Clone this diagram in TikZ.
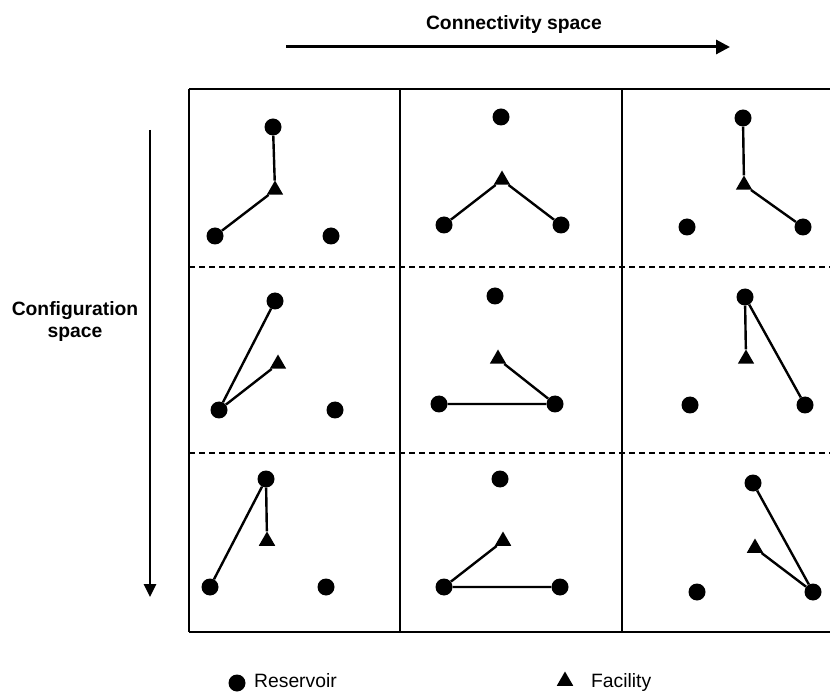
\documentclass[tikz,border=0pt]{standalone}
\usepackage{fontspec}
\setmainfont{Liberation Sans}
\usetikzlibrary{shapes.geometric,arrows.meta}

\begin{document}
\begin{tikzpicture}[x=1pt,y=-1pt,
  res/.style={circle,fill,inner sep=0pt,minimum size=17pt},
  fac/.style={regular polygon,regular polygon sides=3,fill,inner sep=0pt,minimum size=19pt},
  link/.style={line width=2.4pt},
  grid/.style={line width=2.4pt},
  sep/.style={line width=2pt,dash pattern=on 6pt off 4pt},
  lbl/.style={font=\fontsize{19.3}{22}\selectfont\bfseries,inner sep=0pt,align=center}]
\useasboundingbox (0,0) rectangle (830,692);

% axes
\node[lbl] (conn) at (514,25) {Connectivity space};
\draw[line width=3pt,-{Triangle[length=14pt,width=14pt]}] (286,47)--(730,47);
\node[lbl] (conf) at (75,322) {Configuration\\space};
\draw[line width=2.6pt,-{Triangle[length=13pt,width=12pt]}] (150,130)--(150,597);

% frame
\draw[grid] (189,89)--(830,89) (189,632)--(830,632);
\draw[grid] (189,89)--(189,632) (400,89)--(400,632) (622,89)--(622,632);
\draw[sep] (189,267)--(830,267) (189,453)--(830,453);

% row 1
\node[res] (c11t) at (273,127) {};
\node[fac] (c11f) at (275,190) {};
\node[res] (c11l) at (215,236) {};
\node[res] (c11r) at (331,236) {};
\draw[link] (c11t)--(c11f)--(c11l);

\node[res] (c21t) at (501,117) {};
\node[fac] (c21f) at (502,180) {};
\node[res] (c21l) at (444,225) {};
\node[res] (c21r) at (561,225) {};
\draw[link] (c21l)--(c21f)--(c21r);

\node[res] (c31t) at (743,118) {};
\node[fac] (c31f) at (744,185) {};
\node[res] (c31l) at (687,227) {};
\node[res] (c31r) at (803,227) {};
\draw[link] (c31t)--(c31f)--(c31r);

% row 2
\node[res] (c12t) at (275,301) {};
\node[fac] (c12f) at (278,364) {};
\node[res] (c12l) at (219,410) {};
\node[res] (c12r) at (335,410) {};
\draw[link] (c12t)--(c12l)--(c12f);

\node[res] (c22t) at (495,296) {};
\node[fac] (c22f) at (498,359) {};
\node[res] (c22l) at (439,404) {};
\node[res] (c22r) at (555,404) {};
\draw[link] (c22l)--(c22r)--(c22f);

\node[res] (c32t) at (745,297) {};
\node[fac] (c32f) at (746,359) {};
\node[res] (c32l) at (690,405) {};
\node[res] (c32r) at (805,405) {};
\draw[link] (c32f)--(c32t)--(c32r);

% row 3
\node[res] (c13t) at (266,479) {};
\node[fac] (c13f) at (267,541) {};
\node[res] (c13l) at (210,587) {};
\node[res] (c13r) at (326,587) {};
\draw[link] (c13f)--(c13t)--(c13l);

\node[res] (c23t) at (500,479) {};
\node[fac] (c23f) at (503,541) {};
\node[res] (c23l) at (444,587) {};
\node[res] (c23r) at (560,587) {};
\draw[link] (c23f)--(c23l)--(c23r);

\node[res] (c33t) at (753,483) {};
\node[fac] (c33f) at (755,548) {};
\node[res] (c33l) at (697,592) {};
\node[res] (c33r) at (813,592) {};
\draw[link] (c33t)--(c33r)--(c33f);

% legend
\node[res] (keyres) at (237,683) {};
\node[anchor=base west,inner sep=0pt,font=\fontsize{19.3}{22}\selectfont] (keyrestxt) at (254,687) {Reservoir};
\node[fac] (keyfac) at (565,681) {};
\node[anchor=base west,inner sep=0pt,font=\fontsize{19.3}{22}\selectfont] (keyfactxt) at (591,687) {Facility};
\end{tikzpicture}
\end{document}
